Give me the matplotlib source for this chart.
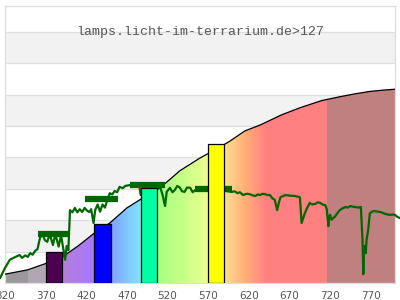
import matplotlib
matplotlib.use("Agg")
import matplotlib.pyplot as plt
import numpy as np
from matplotlib.colors import to_rgb
from matplotlib.patches import Polygon

# sensitivity curve (black line, gradient filled)
curve_nm = [320, 348, 369, 390, 410, 430, 449, 470, 486, 511, 535, 560, 580, 597,
            615, 634, 660, 683, 710, 732, 750, 769, 785, 800]
curve_val = [0.28, 0.42, 0.61, 0.82, 1.18, 1.59, 1.91, 2.39, 2.65, 3.03, 3.57, 3.98,
             4.26, 4.52, 4.84, 5.03, 5.35, 5.58, 5.81, 5.93, 6.02, 6.10, 6.14, 6.17]

# colours of the spectrum under the curve
grad_nm = [320, 348, 348.5, 370, 390, 430, 449, 487, 507, 540, 569, 590, 615, 642, 716, 716.5, 800]
grad_col = ['#999999', '#999999', '#b0a8b0', '#b0a8b0', '#b580d8', '#a478ff', '#80a0ff',
            '#80e4ff', '#a4ff80', '#c8ff88', '#ecff90', '#ffe090', '#ffb078', '#ff8080',
            '#ff8080', '#c08080', '#c08080']

# lamp spectrum (green line)
spec_nm = [314, 320, 326, 332, 338, 341, 345, 348, 351, 354, 357, 360, 363, 366, 369,
           372, 375, 379, 382, 386, 389, 394, 396, 398, 400, 403, 406, 409, 412, 415,
           418, 421, 424, 426, 429, 431, 434, 437, 440, 443, 446, 449, 452, 455, 458,
           461, 465, 468, 474, 480, 485, 487, 490, 508, 511, 514, 517, 519, 523, 526,
           529, 532, 535, 538, 541, 544, 548, 551, 554, 560, 572, 585, 599, 603, 606,
           609, 613, 617, 621, 625, 628, 631, 634, 637, 640, 643, 646, 649, 652, 655,
           657, 659, 665, 671, 677, 683, 685, 687, 689, 692, 695, 698, 702, 705, 708,
           711, 714, 716, 718, 719, 720, 722, 724, 726, 729, 732, 735, 739, 742, 745,
           748, 751, 755, 758, 760, 761, 762, 764, 765, 767, 769, 773, 777, 782, 786,
           788, 791, 794, 797, 800, 803, 806]
spec_val = [0.16, 0.48, 0.74, 0.82, 0.89, 0.80, 0.88, 0.83, 0.95, 0.90, 1.02, 1.08, 1.43,
            1.56, 1.37, 1.31, 1.56, 1.21, 1.56, 1.16, 1.52, 0.74, 1.18, 1.05, 2.32, 2.25,
            2.39, 2.25, 2.35, 2.26, 2.39, 2.30, 2.26, 2.35, 1.91, 2.32, 2.50, 2.27, 2.50,
            2.40, 2.65, 2.86, 2.82, 2.93, 2.89, 3.06, 3.02, 3.09, 3.12, 3.10, 3.12, 2.80,
            3.09, 3.09, 3.06, 2.80, 2.45, 2.90, 3.03, 2.89, 2.96, 3.09, 3.04, 2.92, 2.90,
            3.04, 3.03, 2.89, 2.96, 2.96, 2.96, 2.96, 2.90, 2.92, 2.86, 2.89, 2.80, 2.84,
            2.83, 2.79, 2.77, 2.82, 2.80, 2.84, 2.83, 2.80, 2.80, 2.70, 2.65, 2.32, 2.55,
            2.73, 2.80, 2.78, 2.77, 2.73, 1.91, 2.06, 2.22, 2.40, 2.55, 2.50, 2.52, 2.57,
            2.55, 2.50, 2.48, 2.35, 1.81, 2.11, 2.17, 2.01, 2.07, 2.11, 2.22, 2.32, 2.37,
            2.42, 2.40, 2.45, 2.43, 2.42, 2.40, 2.42, 1.37, 0.28, 1.18, 0.95, 1.37, 1.69,
            2.22, 2.29, 2.28, 2.26, 2.22, 2.20, 2.18, 2.17, 2.18, 2.17, 2.10, 2.07]

# dense (noisy) stretches of the spectrum
block_start = [361, 418, 474, 554]
block_end = [400, 459, 517, 599]
block_val = [1.56, 2.66, 3.12, 2.98]

# LED bands
bar_nm = [380.5, 440, 497.5, 579.5]
bar_val = [1.00, 1.88, 3.02, 4.42]
bar_col = ['#4b0050', '#0000ff', '#00ffa0', '#ffff00']
bar_w = 20

xticks = list(range(320, 800, 50))
title = "lamps.licht-im-terrarium.de>127"

fig = plt.figure(figsize=(4, 3), dpi=100)
ax = fig.add_axes([0.0125, 0.0567, 0.975, 0.9233])
ax.set_xlim(320, 800)
ax.set_ylim(0, 8.82)

# alternating bands + grid
for k in range(9):
    if k % 2 == 1:
        ax.axhspan(k, k + 1, color='#f2f2f2', lw=0, zorder=0)
for k in range(1, 9):
    ax.axhline(k, color='#dddddd', lw=0.9, zorder=1)

# gradient under curve
xs = np.linspace(320, 800, 960)
rgb = np.array([to_rgb(c) for c in grad_col])
img = np.stack([np.interp(xs, grad_nm, rgb[:, i]) for i in range(3)], axis=-1)[None, :, :]
im = ax.imshow(img, extent=(320, 800, 0, 8.82), aspect='auto', origin='lower', zorder=2,
               interpolation='nearest')
poly = Polygon(list(zip(curve_nm, curve_val)) + [(800, 0), (320, 0)], closed=True,
               facecolor='none', edgecolor='none', transform=ax.transData)
ax.add_patch(poly)
im.set_clip_path(poly)
ax.plot(curve_nm, curve_val, color='black', lw=0.9, zorder=3)

# spectrum
ax.plot(spec_nm, spec_val, color='#006600', lw=1.6, zorder=4, clip_on=False)
ax.hlines(block_val, block_start, block_end, color='#006600', lw=4.5, zorder=4)

# bars
ax.bar(bar_nm, bar_val, width=bar_w, color=bar_col, edgecolor='black', lw=0.9, zorder=5)

ax.text(0.5, 0.905, title, transform=ax.transAxes, ha='center', va='center',
        family='Liberation Mono', fontsize=9.5, color='#555555', zorder=6)

ax.set_xticks(xticks)
ax.set_yticks([])
ax.tick_params(axis='x', length=0, pad=6, labelsize=7.5, labelcolor='#555555')
for s in ax.spines.values():
    s.set_color('#dddddd')
    s.set_linewidth(0.9)

fig.savefig('out.png', dpi=100)
